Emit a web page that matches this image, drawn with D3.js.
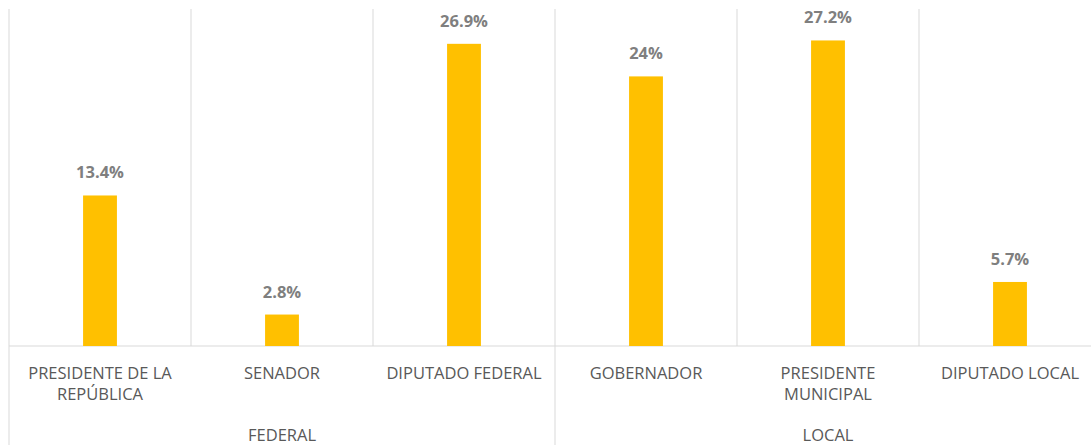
<!DOCTYPE html>
<html>
<head>
<meta charset="utf-8">
<script src="https://cdn.jsdelivr.net/npm/d3@7"></script>
<style>
  body { margin: 0; background: #fff; }
  svg { display: block; font-family: "Open Sans", sans-serif; }
</style>
</head>
<body>
<svg id="canvas"></svg>
<script>
const categories = ["PRESIDENTE DE LA REPÚBLICA", "SENADOR", "DIPUTADO FEDERAL", "GOBERNADOR", "PRESIDENTE MUNICIPAL", "DIPUTADO LOCAL"];
const groups = ["FEDERAL", "FEDERAL", "FEDERAL", "LOCAL", "LOCAL", "LOCAL"];
const values = [13.4, 2.8, 26.9, 24, 27.2, 5.7];
const valueLabels = ["13.4%", "2.8%", "26.9%", "24%", "27.2%", "5.7%"];

const width = 1091;
const height = 445;
const margin = { top: 9, right: -10, bottom: 99, left: 9 };
const innerWidth = width - margin.left - margin.right;
const innerHeight = height - margin.top - margin.bottom;

const svg = d3.select("#canvas")
    .attr("width", width)
    .attr("height", height);

const main = svg.append("g")
    .attr("transform", `translate(${margin.left}, ${margin.top})`);

const scaleX = d3.scaleBand()
    .domain(categories)
    .range([0, innerWidth]);
const scaleY = d3.scaleLinear()
    .domain([0, 30])
    .range([innerHeight, 0]);

const barWidth = scaleX.bandwidth() * 0.186;
const gridColor = "#d9d9d9";

// category separators (stop at the baseline)
main.append("g").selectAll("line")
    .data(categories.filter((c, i) => i > 0 && groups[i] === groups[i - 1]))
    .join("line")
    .attr("x1", d => scaleX(d)).attr("x2", d => scaleX(d))
    .attr("y1", 0).attr("y2", innerHeight)
    .attr("stroke", gridColor);

// group separators (run to the bottom)
const groupStarts = categories.filter((c, i) => i === 0 || groups[i] !== groups[i - 1]);
main.append("g").selectAll("line")
    .data(groupStarts.concat(["__end"]))
    .join("line")
    .attr("x1", d => d === "__end" ? innerWidth : scaleX(d))
    .attr("x2", d => d === "__end" ? innerWidth : scaleX(d))
    .attr("y1", 0).attr("y2", height - margin.top)
    .attr("stroke", gridColor);

// baseline
main.append("line")
    .attr("x1", 0).attr("x2", innerWidth)
    .attr("y1", scaleY(0)).attr("y2", scaleY(0))
    .attr("stroke", gridColor);

// bars
main.append("g").selectAll("rect")
    .data(values)
    .join("rect")
    .attr("x", (d, i) => scaleX(categories[i]) + scaleX.bandwidth() / 2 - barWidth / 2)
    .attr("y", d => scaleY(d))
    .attr("width", barWidth)
    .attr("height", d => scaleY(0) - scaleY(d))
    .attr("fill", "#ffc000");

// value labels
main.append("g").selectAll("text")
    .data(values)
    .join("text")
    .attr("x", (d, i) => scaleX(categories[i]) + scaleX.bandwidth() / 2)
    .attr("y", d => scaleY(d) - 17)
    .attr("text-anchor", "middle")
    .attr("font-size", 16.5)
    .attr("font-weight", "bold")
    .attr("fill", "#7f7f7f")
    .text((d, i) => valueLabels[i]);

// category labels, wrapped
const catLabels = main.append("g").selectAll("text")
    .data(categories)
    .join("text")
    .attr("x", d => scaleX(d) + scaleX.bandwidth() / 2)
    .attr("y", innerHeight + 33)
    .attr("text-anchor", "middle")
    .attr("font-size", 16.5)
    .attr("fill", "#595959");

catLabels.each(function (d) {
    const text = d3.select(this);
    const maxWidth = scaleX.bandwidth() - 12;
    const words = d.split(" ");
    let line = [];
    let tspan = text.append("tspan").attr("x", text.attr("x")).attr("dy", 0);
    words.forEach(w => {
        line.push(w);
        tspan.text(line.join(" "));
        if (tspan.node().getComputedTextLength() > maxWidth && line.length > 1) {
            line.pop();
            tspan.text(line.join(" "));
            line = [w];
            tspan = text.append("tspan").attr("x", text.attr("x")).attr("dy", 21).text(w);
        }
    });
});

// group labels
const groupNames = Array.from(new Set(groups));
main.append("g").selectAll("text")
    .data(groupNames)
    .join("text")
    .attr("x", g => {
        const cats = categories.filter((c, i) => groups[i] === g);
        return (scaleX(cats[0]) + scaleX(cats[cats.length - 1]) + scaleX.bandwidth()) / 2;
    })
    .attr("y", innerHeight + 95)
    .attr("text-anchor", "middle")
    .attr("font-size", 16.5)
    .attr("fill", "#595959")
    .text(d => d);
</script>
</body>
</html>
